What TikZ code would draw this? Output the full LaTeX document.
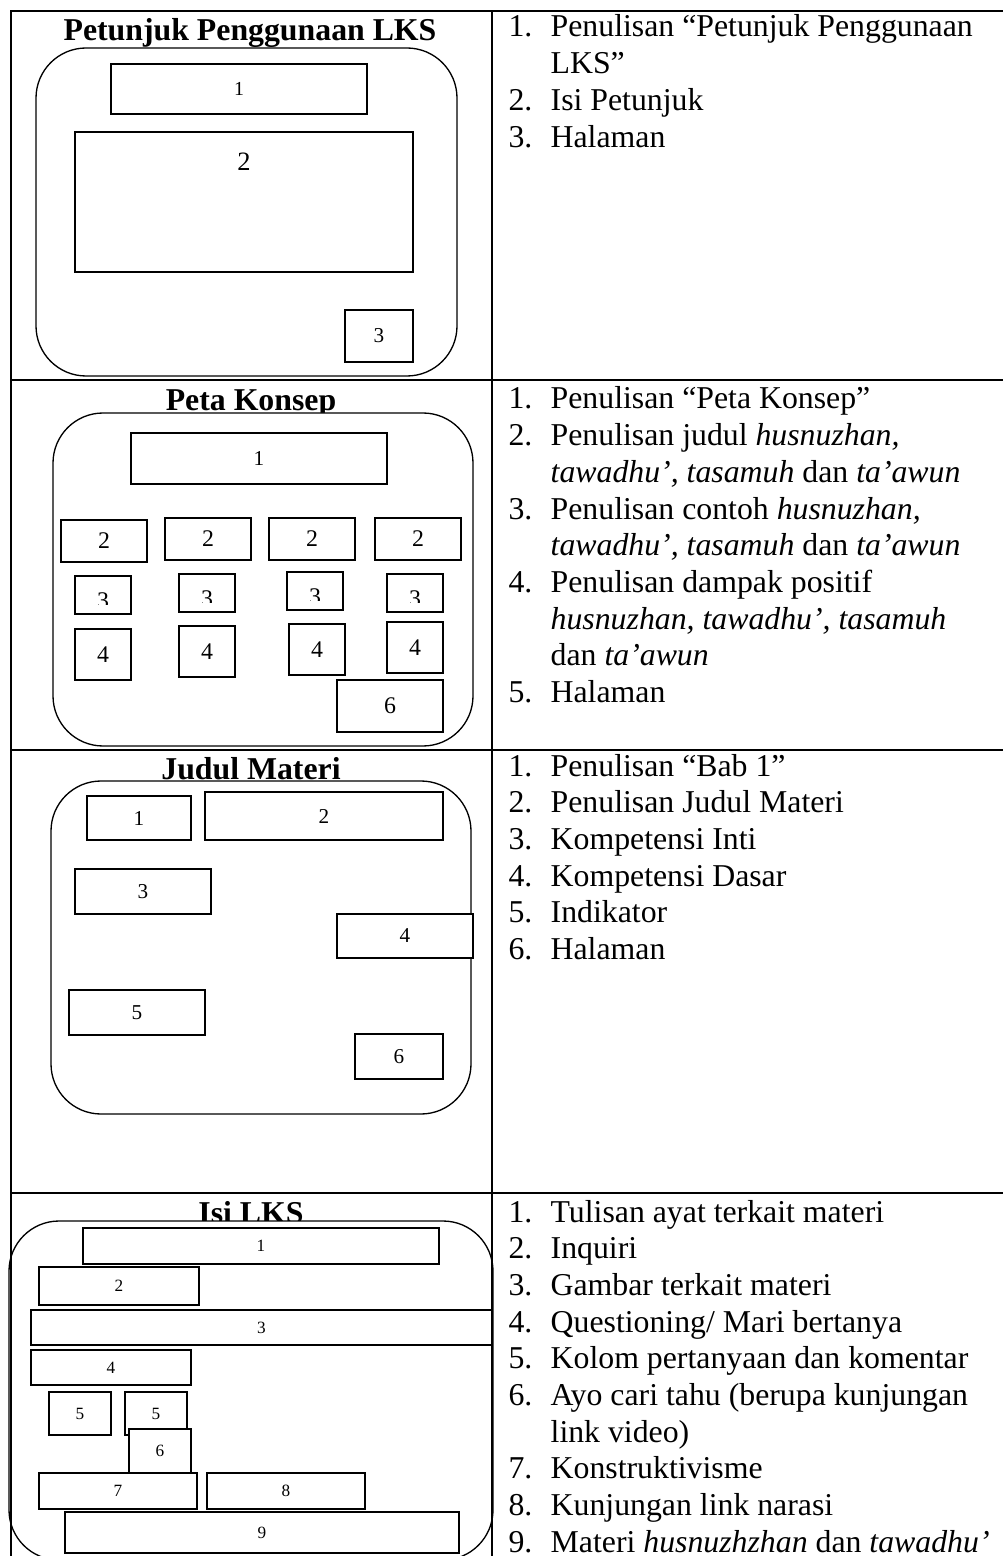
\documentclass[tikz,border=0pt]{standalone}
\usepackage{fontspec}
\setmainfont{Liberation Serif}
\usetikzlibrary{fit}

\tikzset{
  tabline/.style={line width=0.6pt},
  sheet/.style={draw, line width=0.5pt, fill=white, rounded corners=18.9pt, inner sep=0pt},
  box/.style={draw, line width=0.55pt, fill=white, inner sep=0pt},
  head/.style={font=\bfseries\fontsize{12}{13.85}\selectfont, anchor=base, inner sep=0pt},
  itemlist/.style={font=\fontsize{12}{13.85}\selectfont, anchor=base west, inner sep=0pt},
  labA/.style={font=\fontsize{6.5}{8}\selectfont},
  labB/.style={font=\fontsize{7.5}{9}\selectfont},
  labC/.style={font=\fontsize{8}{9.5}\selectfont},
  labD/.style={font=\fontsize{9}{11}\selectfont},
  labE/.style={font=\fontsize{10}{12}\selectfont}
}

\begin{document}
\begin{tikzpicture}[x=0.3774pt, y=-0.3774pt]
    \clip (0,0) rectangle (1003,1556);

    % titles
    \node[head] (h1) at (250,41) {Petunjuk Penggunaan LKS};
    \node[head] (h2) at (251,411) {Peta Konsep};
    \node[head] (h3) at (251,779) {Judul Materi};
    \node[head] (h4) at (251,1223) {Isi LKS};

    % rounded pages
    \node[sheet, fit={(36,48) (457,376)}] (pg1) {};
    \node[sheet, fit={(53,413) (473,746)}] (pg2) {};
    \node[sheet, fit={(51,781) (471,1114)}] (pg3) {};
    \node[sheet, fit={(9,1221) (493,1560)}] (pg4) {};

    % table
    \draw[tabline] (11,1556) -- (11,11) -- (1003,11);
    \draw[tabline] (492,11) -- (492,1556);
    \draw[tabline] (11,380) -- (1003,380);
    \draw[tabline] (11,750) -- (1003,750);
    \draw[tabline] (11,1193) -- (1003,1193);

    % Petunjuk Penggunaan LKS
    \node[box, fit={(111,64) (367,114)}, label={[labB]center:1}] (pp1) {};
    \node[box, fit={(75,132) (413,272)}] (pp2) {};
    \node[labE] (pp2l) at (244,162) {2};
    \node[box, fit={(345,310) (413,362)}, label={[labC]center:3}] (pp3) {};

    % Peta Konsep
    \node[box, fit={(131,433) (387,484)}, label={[labC]center:1}] (pk1) {};
    \node[box, fit={(61,520) (147,562)}, label={[labD]center:2}] (pk2a) {};
    \node[box, fit={(165,518) (251,560)}, label={[labD]center:2}] (pk2b) {};
    \node[box, fit={(269,518) (355,560)}, label={[labD]center:2}] (pk2c) {};
    \node[box, fit={(375,518) (461,560)}, label={[labD]center:2}] (pk2d) {};
    \node[box, fit={(75,576) (131,614)}] (pk3a) {};
    \node[box, fit={(179,574) (235,612)}] (pk3b) {};
    \node[box, fit={(287,572) (343,610)}] (pk3c) {};
    \node[box, fit={(387,574) (443,612)}] (pk3d) {};
    \begin{scope}
      \clip (75,576) rectangle (131,604);
      \node[labD, anchor=base] (pk3al) at (103,608) {3};
    \end{scope}
    \begin{scope}
      \clip (179,574) rectangle (235,602);
      \node[labD, anchor=base] (pk3bl) at (207,606) {3};
    \end{scope}
    \begin{scope}
      \clip (287,572) rectangle (343,600);
      \node[labD, anchor=base] (pk3cl) at (315,604) {3};
    \end{scope}
    \begin{scope}
      \clip (387,574) rectangle (443,602);
      \node[labD, anchor=base] (pk3dl) at (415,606) {3};
    \end{scope}
    \node[box, fit={(75,629) (131,680)}, label={[labD]center:4}] (pk4a) {};
    \node[box, fit={(179,626) (235,677)}, label={[labD]center:4}] (pk4b) {};
    \node[box, fit={(289,624) (345,675)}, label={[labD]center:4}] (pk4c) {};
    \node[box, fit={(387,622) (443,673)}, label={[labD]center:4}] (pk4d) {};
    \node[box, fit={(337,680) (443,732)}, label={[labD]center:6}] (pk6) {};

    % Judul Materi
    \node[box, fit={(87,796) (191,840)}, label={[labC]center:1}] (jm1) {};
    \node[box, fit={(205,792) (443,840)}, label={[labC]center:2}] (jm2) {};
    \node[box, fit={(75,869) (211,914)}, label={[labC]center:3}] (jm3) {};
    \node[box, fit={(337,914) (473,958)}, label={[labC]center:4}] (jm4) {};
    \node[box, fit={(69,990) (205,1035)}, label={[labC]center:5}] (jm5) {};
    \node[box, fit={(355,1034) (443,1079)}, label={[labC]center:6}] (jm6) {};

    % Isi LKS
    \node[box, fit={(83,1228) (439,1264)}, label={[labA]center:1}] (il1) {};
    \node[box, fit={(39,1267) (199,1305)}, label={[labA]center:2}] (il2) {};
    \node[box, fit={(31,1310) (492,1345)}, label={[labA]center:3}] (il3) {};
    \node[box, fit={(31,1350) (191,1385)}, label={[labA]center:4}] (il4) {};
    \node[box, fit={(49,1392) (111,1435)}, label={[labA]center:5}] (il5a) {};
    \node[box, fit={(125,1392) (187,1435)}, label={[labA]center:5}] (il5b) {};
    \node[box, fit={(129,1429) (191,1473)}, label={[labA]center:6}] (il6) {};
    \node[box, fit={(39,1473) (197,1509)}, label={[labA]center:7}] (il7) {};
    \node[box, fit={(207,1473) (365,1509)}, label={[labA]center:8}] (il8) {};
    \node[box, fit={(65,1512) (459,1553)}, label={[labA]center:9}] (il9) {};

    % right column
    \node[itemlist] (ls1) at (508,37) {\begin{tabular}[t]{@{}p{15.9pt}@{}l@{}}
      1. & Penulisan “Petunjuk Penggunaan\\
         & LKS”\\
      2. & Isi Petunjuk\\
      3. & Halaman
    \end{tabular}};
    \node[itemlist] (ls2) at (508,409) {\begin{tabular}[t]{@{}p{15.9pt}@{}l@{}}
      1. & Penulisan “Peta Konsep”\\
      2. & Penulisan judul \textit{husnuzhan,}\\
         & \textit{tawadhu’, tasamuh} dan \textit{ta’awun}\\
      3. & Penulisan contoh \textit{husnuzhan,}\\
         & \textit{tawadhu’, tasamuh} dan \textit{ta’awun}\\
      4. & Penulisan dampak positif\\
         & \textit{husnuzhan, tawadhu’, tasamuh}\\
         & dan \textit{ta’awun}\\
      5. & Halaman
    \end{tabular}};
    \node[itemlist] (ls3) at (508,776) {\begin{tabular}[t]{@{}p{15.9pt}@{}l@{}}
      1. & Penulisan “Bab 1”\\
      2. & Penulisan Judul Materi\\
      3. & Kompetensi Inti\\
      4. & Kompetensi Dasar\\
      5. & Indikator\\
      6. & Halaman
    \end{tabular}};
    \node[itemlist] (ls4) at (508,1222) {\begin{tabular}[t]{@{}p{15.9pt}@{}l@{}}
      1. & Tulisan ayat terkait materi\\
      2. & Inquiri\\
      3. & Gambar terkait materi\\
      4. & Questioning/ Mari bertanya\\
      5. & Kolom pertanyaan dan komentar\\
      6. & Ayo cari tahu (berupa kunjungan\\
         & link video)\\
      7. & Konstruktivisme\\
      8. & Kunjungan link narasi\\
      9. & Materi \textit{husnuzhzhan} dan \textit{tawadhu’}
    \end{tabular}};
  \end{tikzpicture}
\end{document}
